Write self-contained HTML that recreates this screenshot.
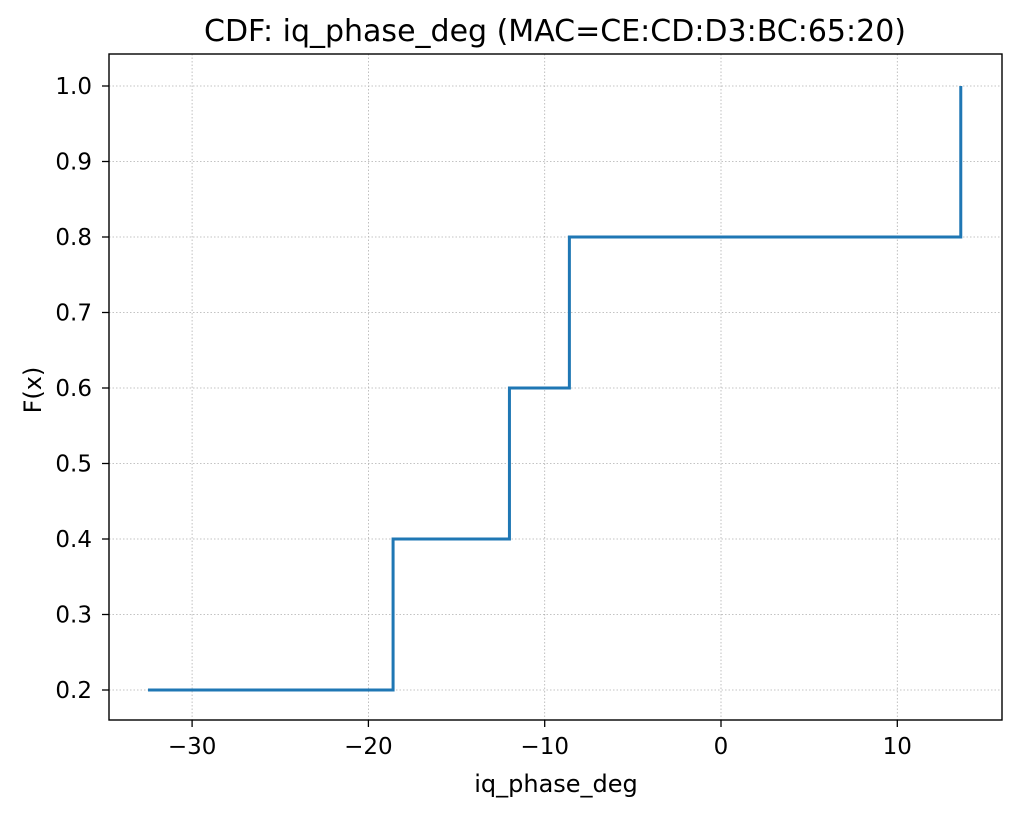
<!DOCTYPE html>
<html><head><meta charset="utf-8"><style>
body{margin:0;background:#fff;font-family:"Liberation Sans","DejaVu Sans",sans-serif;}
svg text{font-family:"DejaVu Sans","Liberation Sans",sans-serif;fill:#000}
</style></head><body>
<svg id="chart" width="1020" height="815" viewBox="0 0 1020 815" xmlns="http://www.w3.org/2000/svg">
<rect width="1020" height="815" fill="#fff"/>
<g id="grid"></g>
<g id="ticks"></g>
<path id="line" fill="none" stroke="#1f77b4" stroke-width="3"/>
<rect x="109" y="54" width="893" height="666" fill="none" stroke="#000" stroke-width="1.4"/>
<text x="555" y="41" font-size="30" text-anchor="middle">CDF: iq_phase_deg (MAC=CE:CD:D3:BC:65:20)</text>
<text x="556" y="792" font-size="24" text-anchor="middle">iq_phase_deg</text>
<text x="41" y="390" font-size="24" text-anchor="middle" transform="rotate(-90 41 390)">F(x)</text>
</svg>
<script>
const xValues=[-32.5,-18.6,-12.0,-8.6,13.6];
const yValues=[0.2,0.4,0.6,0.8,1.0];
const xTicks=[-30,-20,-10,0,10];
const yTicks=[0.2,0.3,0.4,0.5,0.6,0.7,0.8,0.9,1.0];
const NS="http://www.w3.org/2000/svg";
function sx(v){return 721+v*17.63;}
function sy(v){return 690-(v-0.2)*755;}
const grid=document.getElementById('grid'),ticks=document.getElementById('ticks');
function mk(tag,attrs,parent){const e=document.createElementNS(NS,tag);for(const k in attrs)e.setAttribute(k,attrs[k]);parent.appendChild(e);return e;}
xTicks.forEach(t=>{const x=sx(t);
const g=mk('line',{x1:x,x2:x,y1:54,y2:720,stroke:'#b0b0b0','stroke-width':0.8,'stroke-dasharray':'1.5,2'},grid);


const tk=mk('line',{x1:x,x2:x,y1:720,y2:727,stroke:'#000','stroke-width':1.3},ticks);


const tx=mk('text',{x:x,y:754,'font-size':23,'text-anchor':'middle'},ticks);
tx.textContent=(t<0?'\u2212'+(-t):t);

});
yTicks.forEach(t=>{const y=sy(t);
const g=mk('line',{x1:109,x2:1002,y1:y,y2:y,stroke:'#b0b0b0','stroke-width':0.8,'stroke-dasharray':'1.5,2'},grid);


const tk=mk('line',{x1:102,x2:109,y1:y,y2:y,stroke:'#000','stroke-width':1.3},ticks);


const tx=mk('text',{x:92,y:y+8,'font-size':23,'text-anchor':'end'},ticks);
tx.textContent=t.toFixed(1);

});
let d='M'+sx(xValues[0])+','+sy(yValues[0]);
for(let i=1;i<xValues.length;i++){d+=' L'+sx(xValues[i])+','+sy(yValues[i-1])+' L'+sx(xValues[i])+','+sy(yValues[i]);}
document.getElementById('line').setAttribute('d',d);
</script>
</body></html>
